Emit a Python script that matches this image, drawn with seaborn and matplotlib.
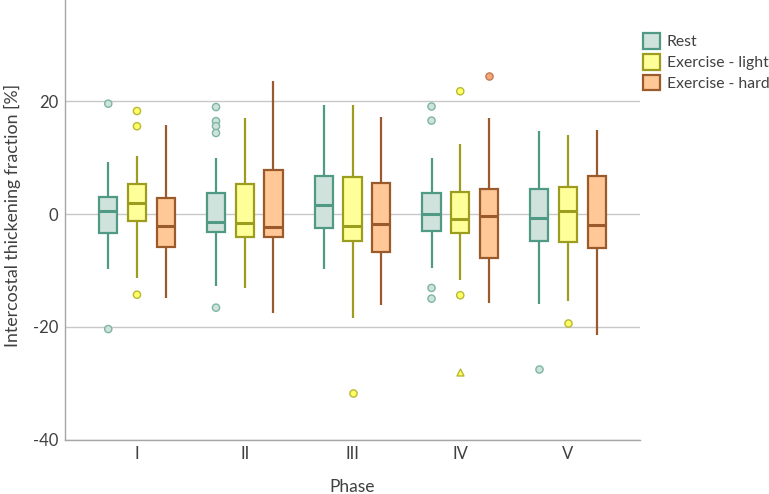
import numpy as np
import pandas as pd
import matplotlib
matplotlib.use("Agg")
import matplotlib.pyplot as plt
import seaborn as sns
from matplotlib.patches import Patch

# ---------------- data ----------------
phases = ["I", "II", "III", "IV", "V"]
conditions = ["Rest", "Exercise - light", "Exercise - hard"]

# five-number summaries per phase: [whisker low, Q1, median, Q3, whisker high]
rest_stats = [
    [-9.7, -3.3, 0.5, 3.1, 9.2],
    [-12.7, -3.1, -1.4, 3.7, 10.0],
    [-9.7, -2.4, 1.7, 6.7, 19.4],
    [-9.5, -3.0, 0.0, 3.7, 9.9],
    [-15.9, -4.8, -0.7, 4.5, 14.8],
]
light_stats = [
    [-11.4, -1.3, 1.9, 5.4, 10.3],
    [-13.2, -4.1, -1.5, 5.3, 17.0],
    [-18.5, -4.7, -2.1, 6.5, 19.4],
    [-11.7, -3.3, -0.9, 3.9, 12.5],
    [-15.4, -5.0, 0.6, 4.8, 14.1],
]
hard_stats = [
    [-14.9, -5.8, -2.1, 2.9, 15.8],
    [-17.6, -4.0, -2.2, 7.8, 23.7],
    [-16.2, -6.7, -1.8, 5.5, 17.3],
    [-15.8, -7.7, -0.4, 4.4, 17.0],
    [-21.5, -6.0, -2.0, 6.7, 15.0],
]

# outliers per phase
rest_outliers = [[19.6, -20.4], [19.0, 16.5, 15.6, 14.4, -16.6], [], [19.1, 16.6, -13.1, -15.0], [-27.5]]
light_outliers = [[18.3, 15.6, -14.3], [], [-31.7], [21.8, -14.4], [-19.4]]
hard_outliers = [[], [], [], [24.6], []]
# extreme value (triangle marker)
light_extremes = [[], [], [], [-28.1], []]

face_colors = {"Rest": "#cfe3dc", "Exercise - light": "#ffff99", "Exercise - hard": "#ffc896"}
edge_colors = {"Rest": "#4f9985", "Exercise - light": "#9c9c1e", "Exercise - hard": "#9a5a2c"}
out_face = {"Rest": "#cfe3dc", "Exercise - light": "#ffff66", "Exercise - hard": "#f6a679"}
out_edge = {"Rest": "#7db5a4", "Exercise - light": "#b8b832", "Exercise - hard": "#c47a50"}

# ---------------- build long tables ----------------
def long_table(stat_dict):
    rows = []
    for cond, per_phase in stat_dict.items():
        for ph, vals in zip(phases, per_phase):
            for v in vals:
                rows.append({"Phase": ph, "Condition": cond, "Value": v})
    return pd.DataFrame(rows, columns=["Phase", "Condition", "Value"])

box_df = long_table({"Rest": rest_stats, "Exercise - light": light_stats, "Exercise - hard": hard_stats})
out_df = long_table({"Rest": rest_outliers, "Exercise - light": light_outliers, "Exercise - hard": hard_outliers})
ext_df = long_table({"Exercise - light": light_extremes})

# ---------------- plot ----------------
sns.set_style("white")
plt.rcParams["font.family"] = ["Lato", "DejaVu Sans"]
text_color = "#404040"

fig = plt.figure(figsize=(7.69, 4.94), dpi=100)
ax = fig.add_axes([65 / 769, 1 - 439.5 / 494, (640 - 65) / 769, 439.5 / 494])

for cond in conditions:
    sub = box_df[box_df["Condition"] == cond]
    sns.boxplot(
        data=sub, x="Phase", y="Value", hue="Condition",
        order=phases, hue_order=conditions, palette=face_colors, saturation=1,
        dodge=True, width=0.8, gap=0.37, whis=np.inf, showcaps=False,
        showfliers=False, linecolor=edge_colors[cond], linewidth=1.6,
        medianprops={"linewidth": 2.2}, legend=False, ax=ax,
    )

for cond in conditions:
    sub = out_df[out_df["Condition"] == cond]
    if len(sub):
        sns.stripplot(
            data=sub, x="Phase", y="Value", hue="Condition",
            order=phases, hue_order=conditions, palette={c: out_face[cond] for c in conditions},
            dodge=True, jitter=False, size=5.2, linewidth=1.0, edgecolor=out_edge[cond],
            legend=False, ax=ax, zorder=3,
        )

sns.stripplot(
    data=ext_df, x="Phase", y="Value", hue="Condition",
    order=phases, hue_order=conditions, palette={c: out_face["Exercise - light"] for c in conditions},
    dodge=True, jitter=False, size=5.0, marker="^", linewidth=1.0,
    edgecolor=out_edge["Exercise - light"], legend=False, ax=ax, zorder=3,
)

ax.set_ylim(-40, 38)
ax.set_xlim(-0.668, 4.668)
ax.set_yticks([-40, -20, 0, 20])
ax.set_yticklabels(["-40", "-20", "0", "20"])
ax.yaxis.grid(True, color="#c8c8c8", linewidth=1.0)
ax.set_axisbelow(True)
ax.tick_params(axis="both", length=0, labelsize=12, colors=text_color)
ax.tick_params(axis="y", pad=5)
ax.tick_params(axis="x", pad=5)
for s in ["top", "right"]:
    ax.spines[s].set_visible(False)
for s in ["left", "bottom"]:
    ax.spines[s].set_color("#a6a6a6")
    ax.spines[s].set_linewidth(1.0)

ax.set_xlabel("Phase", fontsize=12.5, color=text_color, labelpad=12)
ax.set_ylabel("Intercostal thickening fraction [%]", fontsize=12.8, color=text_color)
ax.yaxis.set_label_coords(-0.077, 0.51)

handles = [Patch(facecolor=face_colors[c], edgecolor=edge_colors[c], linewidth=1.6) for c in conditions]
fig.legend(handles, conditions, loc="upper left", bbox_to_anchor=(629 / 769, 1 - 19 / 494),
           frameon=False, fontsize=11.3, handlelength=1.05, handleheight=1.15,
           handletextpad=0.45, labelspacing=0.3, labelcolor=text_color)

fig.savefig("out.png", dpi=100)
